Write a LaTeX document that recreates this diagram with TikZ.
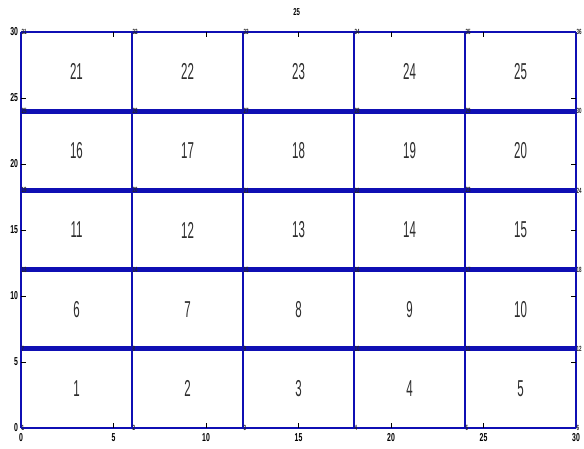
\documentclass[tikz,border=0pt]{standalone}
\usepackage{fontspec}
\setmainfont{Liberation Sans}
\newfontfamily\elfont{Liberation Sans}[FakeStretch=0.5]
\newfontfamily\tkfont{Liberation Sans}[FakeStretch=0.6]
\definecolor{mesh}{RGB}{15,15,180}
\definecolor{lbl}{RGB}{45,45,45}
\tikzset{
  vline/.style={draw=mesh, line width=2pt},
  hline/.style={draw=mesh, line width=5pt},
  bline/.style={draw=mesh, line width=2.6pt},
  tickmark/.style={draw=black, line width=0.7pt},
  elabel/.style={font={\elfont\fontsize{23}{23}\selectfont}, text=lbl, inner sep=0pt},
  nlabel/.style={font={\tkfont\bfseries\fontsize{7.5}{7.5}\selectfont}, text=black!85, inner sep=0.4pt, anchor=west},
  tlabel/.style={font={\tkfont\bfseries\fontsize{11.5}{11.5}\selectfont}, text=black, inner sep=0pt}
}
\begin{document}
\begin{tikzpicture}[x=18.5pt,y=13.2pt]
\useasboundingbox (-1.135,-1.515) rectangle (30.432,32.424);
\fill[white] (-1.135,-1.515) rectangle (30.432,32.424);
% mesh nodes
\foreach \j in {0,...,5} {
  \foreach \i in {0,...,5} {
    \pgfmathtruncatemacro\n{\j*6+\i+1}
    \coordinate (n\n) at (\i*6,\j*6);
  }
}
% vertical lines
\foreach \i in {1,...,6} {
  \pgfmathtruncatemacro\t{30+\i}
  \draw[vline] (n\i) -- (n\t);
}
% horizontal lines
\draw[bline] (n1) -- (n6);
\draw[bline] (n31) -- (n36);
\foreach \j in {1,...,4} {
  \pgfmathtruncatemacro\a{\j*6+1}
  \pgfmathtruncatemacro\b{\j*6+6}
  \draw[hline] (n\a) -- (n\b);
}
% ticks
\foreach \v in {5,10,...,25} {
  \draw[tickmark] (\v,0) -- ++(0,5pt);
  \draw[tickmark] (\v,30) -- ++(0,-5pt);
  \draw[tickmark] (0,\v) -- ++(5pt,0);
  \draw[tickmark] (30,\v) -- ++(-5pt,0);
}
% tick labels
\foreach \v in {0,5,...,30} {
  \node[tlabel, anchor=north] (tx\v) at (\v,-0.4) {\v};
  \node[tlabel, anchor=east] (ty\v) at (-0.15,\v) {\v};
}
% element labels
\foreach \j in {0,...,4} {
  \foreach \i in {0,...,4} {
    \pgfmathtruncatemacro\k{\j*5+\i+1}
    \node[elabel] (e\k) at ({(\i+0.5)*6},{(\j+0.5)*6}) {\k};
  }
}
% node labels
\foreach \n in {1,...,36} {
  \node[nlabel] (l\n) at (n\n) {\n};
}
% title
\node[tlabel, font={\tkfont\bfseries\fontsize{10}{10}\selectfont}] (title) at (14.9,31.5) {25};
\end{tikzpicture}
\end{document}
